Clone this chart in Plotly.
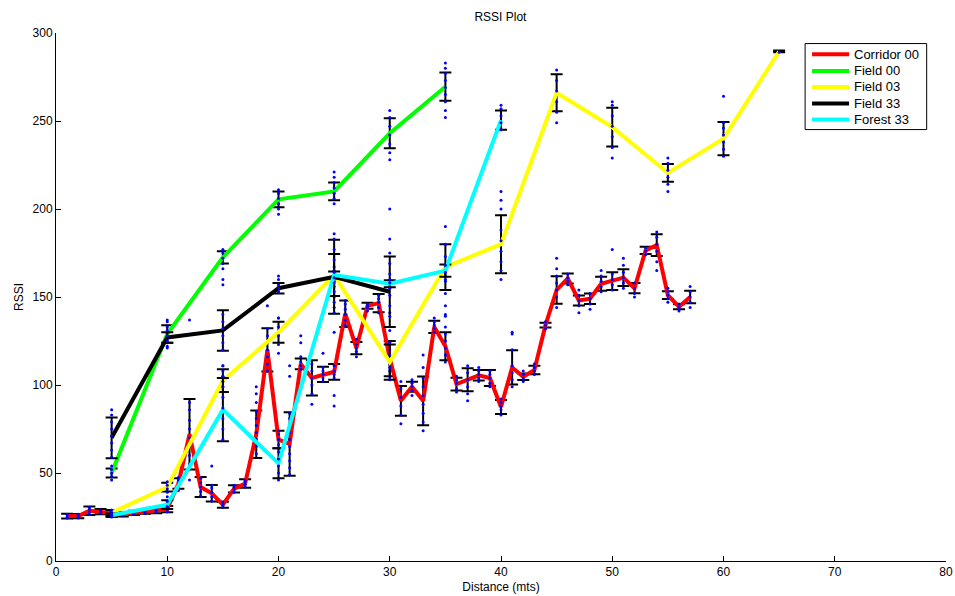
import plotly.graph_objects as go

# ---------------- data ----------------
corr_x = list(range(1, 58))
corr_mean = [25.5, 25.5, 28.5, 28, 27, 26.5, 27.3, 28, 28.4, 29.5,
             44, 72, 42, 38.5, 32, 41, 44, 72, 120, 69,
             66.5, 112, 104, 106, 107.5, 140.5, 121, 145, 146.5, 115,
             91, 99, 91, 133, 122, 100.5, 103, 105.5, 104, 87.5,
             110, 104.7, 108.5, 134, 154, 160.5, 148, 149, 157.5, 159,
             161, 155, 176.5, 179.5, 151, 144.5, 150]
corr_err = [1.4, 1.2, 2.4, 1.5, 1.5, 1.2, 1.2, 1.2, 1.2, 1.8,
            3, 20, 5.7, 4.7, 1.7, 2.1, 2.4, 13.5, 12.3, 5,
            18, 3.1, 10, 4.3, 4.5, 7.5, 3.5, 1.7, 5.2, 10,
            8.5, 2.8, 13.8, 3.5, 8, 3.6, 6.5, 3, 4.5, 4,
            9.7, 1.8, 2.4, 1.3, 7.8, 2.9, 2.8, 3, 4, 5,
            4.8, 2.9, 2.1, 6.2, 2.2, 1.4, 3.5]
corr_samples = [
    [24.5, 25.5, 26.5], [24.5, 25.5, 26.5], [26.5, 28, 29.5, 30.5], [27, 28, 29],
    [25.5, 26.5, 27.5, 28.5], [25.5, 26.5, 27.5], [26.5, 27.5, 28.5], [27, 28, 29],
    [27.5, 28.5, 29.5], [28, 29.5, 31, 33], [40, 42, 44, 46, 47.5],
    [46, 55, 60, 65, 70, 75, 80, 86, 90, 137], [37, 39.5, 42, 44.5, 47],
    [34, 36.5, 39, 41.5, 43, 54], [30.5, 31.5, 32.5, 33.5], [39, 40.5, 42, 43],
    [42, 43.5, 45, 46], [61, 65, 69, 73, 77, 81, 85, 90, 95, 99],
    [108, 112, 116, 120, 124, 128, 132, 145], [64, 66, 69, 72, 74],
    [49, 53, 57, 61, 65, 69, 73, 77, 81, 84, 105, 111], [109, 111, 113, 116, 124, 128],
    [89, 95, 100, 104, 108, 112], [102, 104, 106, 108, 110, 118],
    [88, 94, 104, 106, 108, 111, 130], [134, 137, 140, 143, 146, 148],
    [116, 119, 121, 123, 126], [142, 144, 145, 146], [141, 144, 147, 149, 151],
    [105, 108, 112, 116, 120, 124], [78, 83, 88, 93, 98, 102], [94, 97, 99, 101, 103],
    [74, 79, 84, 89, 94, 99, 104, 110, 117], [130, 132, 134, 136, 138],
    [113, 117, 121, 125, 129, 133, 140], [96, 98, 101, 103, 105],
    [91, 95, 99, 103, 107, 111], [102, 104, 106, 108, 110], [99, 101, 104, 106, 108],
    [83, 86, 88, 90, 92], [99, 103, 107, 111, 120, 129, 130], [102, 104, 106, 108],
    [106, 108, 110, 112], [132, 134, 136], [144, 150, 154, 158, 162, 166, 172],
    [157, 159, 161, 163], [141, 145, 148, 151, 154], [143, 146, 149, 152],
    [153, 156, 159, 162, 165], [154, 157, 160, 163, 177], [155, 158, 161, 164, 168, 172],
    [150, 152, 155, 158], [174, 176, 178], [165, 170, 176, 180, 184, 187],
    [147, 149, 151, 153, 155], [142, 144, 146], [144, 147, 150, 153, 156],
]

f00_x = [5, 10, 15, 20, 25, 30, 35]
f00_mean = [50, 129, 172.5, 205.5, 210, 243, 269.5]
f00_err = [2.5, 5, 3.5, 4.5, 5, 8.5, 8]
f00_samples = [
    [46, 48, 50, 52, 54], [121, 124, 127, 130, 133, 136, 137],
    [157, 160, 166, 169, 172, 175, 177], [197, 200, 203, 206, 209, 211],
    [203, 206, 209, 212, 215, 218, 221], [200, 228, 232, 237, 242, 247, 252, 256],
    [252, 256, 261, 265, 269, 273, 277, 280, 283],
]

f03_x = [5, 10, 15, 20, 25, 30, 35, 40, 45, 50, 55, 60, 65]
f03_mean = [27.5, 42, 102.5, 130, 162.5, 113, 167, 180, 266, 246.5, 220.5, 240, 289.5]
f03_err = [1.5, 2.5, 6.5, 6, 12, 10, 13, 16.5, 10.5, 11, 5, 9.5, 0.5]
f03_samples = [
    [26, 27.5, 29], [39, 41, 43, 45], [96, 99, 102, 105, 108, 111],
    [118, 123, 128, 133, 138], [144, 150, 156, 162, 167], [103, 110, 117, 124, 131, 141],
    [139, 145, 152, 159, 166, 173, 180, 190], [160, 165, 170, 176, 182, 188, 200, 205, 210],
    [249, 255, 261, 267, 273, 279], [229, 235, 241, 247, 253, 259, 261],
    [210, 214, 218, 222, 226, 229], [230, 234, 238, 242, 246, 249, 264], [289],
]

f33_x = [5, 10, 15, 20, 25, 30]
f33_mean = [70, 127, 131, 155, 161.5, 153]
f33_err = [11.6, 3, 11.5, 3, 21, 20]
f33_samples = [
    [59, 63, 67, 71, 75, 79, 83, 86], [122, 125, 128, 131],
    [120, 124, 128, 132, 136, 140], [138, 153, 155, 157, 160, 162],
    [141, 147, 153, 159, 165, 171, 177, 183, 186], [139, 145, 151, 157, 163, 169, 175, 183],
]

for33_x = [5, 10, 15, 20, 25, 30, 35, 40]
for33_mean = [26, 32, 86, 55.5, 162.5, 157.5, 165, 250.5]
for33_err = [1, 2.5, 18, 8.5, 2, 2, 3.5, 5.5]
for33_samples = [
    [25, 26, 27], [28, 31, 34, 36.5], [69, 75, 81, 87, 93, 99, 105, 111],
    [46, 50, 54, 58, 62], [158, 161, 164], [155, 158, 160], [160, 164, 168],
    [245, 249, 253, 257, 259],
]

series = [
    ("Corridor 00", "#ff0000", corr_x, corr_mean, corr_err, corr_samples),
    ("Field 00", "#00ff00", f00_x, f00_mean, f00_err, f00_samples),
    ("Field 03", "#ffff00", f03_x, f03_mean, f03_err, f03_samples),
    ("Field 33", "#000000", f33_x, f33_mean, f33_err, f33_samples),
    ("Forest 33", "#00ffff", for33_x, for33_mean, for33_err, for33_samples),
]

fig = go.Figure()
for name, color, xs, mean, err, samples in series:
    fig.add_trace(go.Scatter(
        x=xs, y=mean, mode="markers", showlegend=False, hoverinfo="skip",
        marker=dict(size=1, color="rgba(0,0,0,0)"),
        error_y=dict(type="data", array=err, visible=True, color="black",
                     thickness=2, width=6)))
    fig.add_trace(go.Scatter(
        x=xs, y=mean, mode="lines", name=name, showlegend=False,
        line=dict(color=color, width=4)))
    dx, dy = [], []
    for xv, sv in zip(xs, samples):
        for v in sv:
            dx.append(xv)
            dy.append(v)
    fig.add_trace(go.Scatter(
        x=dx, y=dy, mode="markers", showlegend=False, hoverinfo="skip",
        marker=dict(size=3, color="#0000ff")))

# ---------- manual legend (paper coordinates of the plot area) ----------
shapes = [dict(type="rect", xref="paper", yref="paper",
               x0=0.8417, x1=0.9783, y0=0.8171, y1=0.98,
               line=dict(color="black", width=1), fillcolor="white", layer="above")]
annotations = []
row_y = [0.9597, 0.9281, 0.8978, 0.8664, 0.8361]
for (name, color, *_), ry in zip(series, row_y):
    shapes.append(dict(type="line", xref="paper", yref="paper",
                       x0=0.8495, x1=0.8911, y0=ry, y1=ry,
                       line=dict(color=color, width=4), layer="above"))
    annotations.append(dict(text=name, xref="paper", yref="paper",
                            x=0.8944, y=ry, xanchor="left", yanchor="middle",
                            showarrow=False, font=dict(size=13, color="black")))

axis_font = dict(family="Liberation Sans, Arial, sans-serif", size=12, color="#000000")
fig.update_layout(
    width=955, height=596,
    margin=dict(l=55.5, r=9, t=33, b=35),
    paper_bgcolor="white", plot_bgcolor="white",
    font=axis_font,
    showlegend=False,
    shapes=shapes, annotations=annotations,
    title=dict(text="RSSI Plot", x=0.524, xanchor="center", y=1 - 17 / 596,
               yanchor="middle", yref="container", font=dict(size=12)),
    xaxis=dict(range=[0, 80], tickvals=[0, 10, 20, 30, 40, 50, 60, 70, 80],
               ticks="inside", ticklen=5, tickcolor="black", showline=True,
               linecolor="black", linewidth=1, showgrid=False, zeroline=False,
               automargin=False,
               title=dict(text="Distance (mts)", standoff=4, font=dict(size=12))),
    yaxis=dict(range=[0, 300], tickvals=[0, 50, 100, 150, 200, 250, 300],
               ticks="inside", ticklen=5, tickcolor="black", showline=True,
               linecolor="black", linewidth=1, showgrid=False, zeroline=False,
               automargin=False,
               title=dict(text="RSSI", standoff=6, font=dict(size=12))),
)

fig.write_html("out.html")
